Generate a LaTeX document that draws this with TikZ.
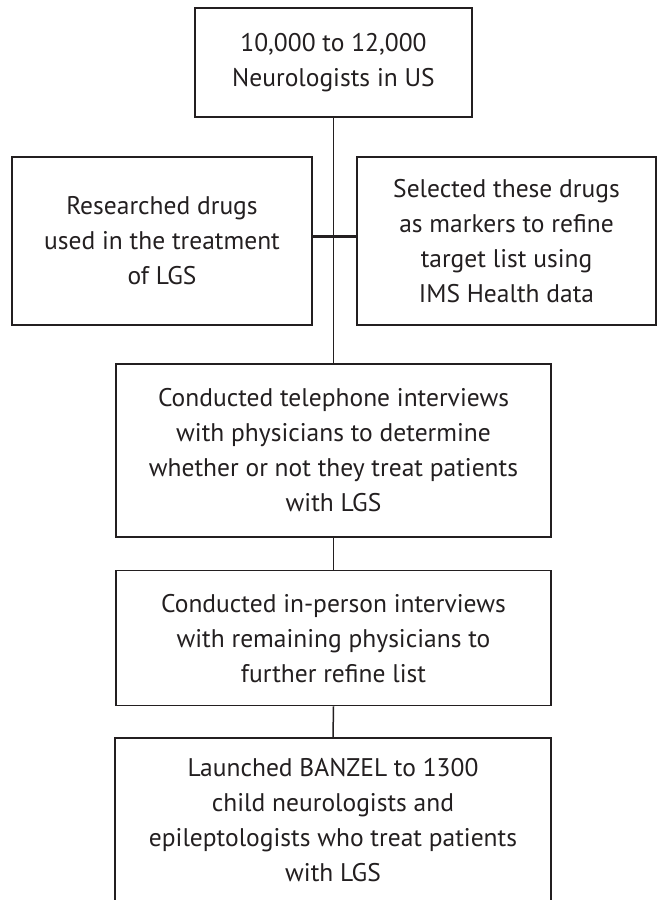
\documentclass[tikz,border=0pt]{standalone}
\usepackage{fontspec}
\setmainfont{PT Sans}
\usetikzlibrary{calc}
\definecolor{ink}{HTML}{231F20}
\tikzset{
  flowbox/.style={draw=ink, line width=1.4pt, text=ink, inner sep=0pt, align=center,
    font=\fontsize{25.5}{35}\selectfont},
  link/.style={draw=ink, line width=1.5pt},
  thicklink/.style={draw=ink, line width=2.8pt}
}
\begin{document}
\begin{tikzpicture}[x=1pt,y=-1pt]
\useasboundingbox (0,0) rectangle (657,900);
\clip (0,0) rectangle (657,900);
\fill[white] (0,0) rectangle (657,900);
\node[flowbox, minimum width=277pt, minimum height=109pt] (top) at (333.5,62.5)
  {10,000 to 12,000\\Neurologists in US};
\node[flowbox, minimum width=300pt, minimum height=168pt] (left) at (162,241)
  {Researched drugs\\used in the treatment\\of LGS};
\node[flowbox, minimum width=299pt, minimum height=168pt] (right) at (506.5,241)
  {Selected these drugs\\as markers to refine\\target list using\\IMS Health data};
\node[flowbox, minimum width=435pt, minimum height=173pt] (tel) at (333.5,450.5)
  {Conducted telephone interviews\\with physicians to determine\\whether or not they treat patients\\with LGS};
\node[flowbox, minimum width=435pt, minimum height=135pt] (inp) at (333.5,638.2)
  {Conducted in-person interviews\\with remaining physicians to\\further refine list};
\node[flowbox, minimum width=436pt, minimum height=164pt] (launch) at (333,820)
  {Launched BANZEL to 1300\\child neurologists and\\epileptologists who treat patients\\with LGS};
\draw[link] (top.south) -- (tel.north);
\draw[thicklink] ($(left.east)+(0,-4.5)$) -- ($(right.west)+(0,-4.5)$);
\draw[link] (tel.south) -- (inp.north);
\draw[link] (inp.south) -- (launch.north);
\end{tikzpicture}
\end{document}
